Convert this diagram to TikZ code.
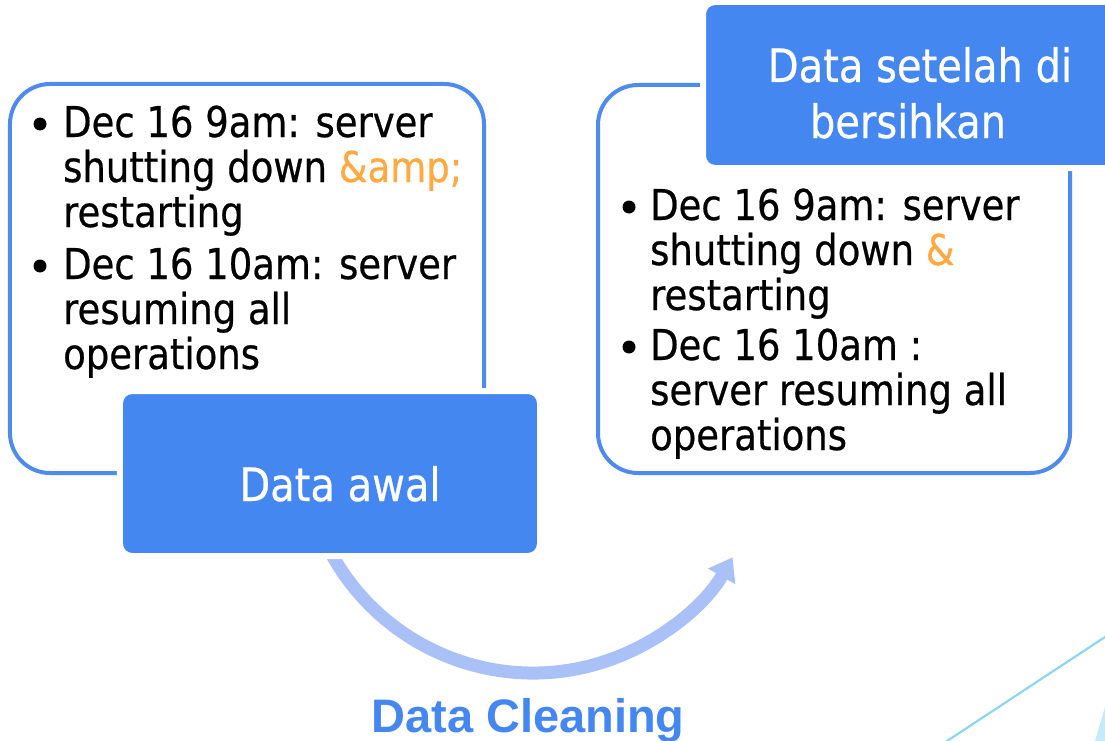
\documentclass[tikz,border=0pt]{standalone}
\usepackage{fontspec}
\setmainfont[FakeStretch=0.87,FakeBold=0.5]{DejaVu Sans}
\newfontfamily\captionfont{Liberation Sans}
\usetikzlibrary{arrows.meta,calc}

\definecolor{boxblue}{RGB}{69,135,240}
\definecolor{edgeblue}{RGB}{78,139,237}
\definecolor{arcblue}{RGB}{170,193,247}
\definecolor{ampcolor}{RGB}{255,169,64}
\definecolor{decoline}{RGB}{140,214,240}
\definecolor{decofill}{RGB}{198,235,248}

\tikzset{
  frame/.style={draw=edgeblue, line width=4bp, rounded corners=40bp,
    inner sep=0pt, fill=white},
  titlebox/.style={fill=boxblue, draw=white, line width=6bp,
    rounded corners=12bp, inner sep=0pt},
  bodyline/.style={anchor=base west, inner sep=0pt, text=black,
    font=\fontsize{42.5bp}{46bp}\selectfont},
  bulletmark/.style={circle, fill=black, inner sep=0pt, minimum size=13bp},
  titletext/.style={anchor=base, inner sep=0pt, text=white,
    font=\fontsize{46bp}{55bp}\selectfont},
  cycle arrow/.style={draw=arcblue, line width=13bp,
    -{Triangle[length=22bp,width=30bp]}},
}

\begin{document}
\begin{tikzpicture}[x=1bp,y=-1bp]
\useasboundingbox (0,0) rectangle (1105,741);

% outlined frames
\node[frame, minimum width=474bp, minimum height=389bp] (rawframe) at (247,278.5) {};
\node[frame, minimum width=472bp, minimum height=388bp] (cleanframe) at (834,279) {};

% cleaning arc running under the first title box
\coordinate (arccentre) at (533,443);
\coordinate (arcfrom) at ($(arccentre)+(160:230)$);
\draw[cycle arrow] (arcfrom)
  arc[start angle=160, end angle=29.8, radius=230];

% filled title boxes
\node[titlebox, minimum width=420bp, minimum height=165bp] (rawtitle) at (330,473.5) {};
\node[titlebox, minimum width=437bp, minimum height=166bp] (cleantitle) at (921.5,85) {};

\node[titletext] (rawlabel) at (340,501) {Data awal};
\node[titletext] (cleanlabelA) at (920,82) {Data setelah di};
\node[titletext] (cleanlabelB) at (908,138) {bersihkan};

% raw data items
\node[bulletmark] (rb1) at (40,124) {};
\node[bodyline] (r1) at (63,137) {Dec 16 9am: server};
\node[bodyline] (r2) at (63,182) {shutting down {\color{ampcolor}\&amp;}};
\node[bodyline] (r3) at (63,227) {restarting};
\node[bulletmark] (rb2) at (40,266) {};
\node[bodyline] (r4) at (63,279) {Dec 16 10am: server};
\node[bodyline] (r5) at (63,324) {resuming all};
\node[bodyline] (r6) at (63,369) {operations};

% cleaned data items
\node[bulletmark] (cb1) at (629,207) {};
\node[bodyline] (c1) at (650,220) {Dec 16 9am: server};
\node[bodyline] (c2) at (650,265) {shutting down {\color{ampcolor}\&}};
\node[bodyline] (c3) at (650,310) {restarting};
\node[bulletmark] (cb2) at (629,347) {};
\node[bodyline] (c4) at (650,360) {Dec 16 10am :};
\node[bodyline] (c5) at (650,405) {server resuming all};
\node[bodyline] (c6) at (650,450) {operations};

% process caption
\node[anchor=base, inner sep=0pt, text=boxblue,
  font=\captionfont\bfseries\fontsize{47bp}{52bp}\selectfont]
  (caption) at (528,732) {Data Cleaning};

% corner decoration
\coordinate (decoA) at (931.2,751.4);
\coordinate (decoB) at (1120.8,626.6);
\draw[decoline, line width=2.2bp] (decoA) -- (decoB);
\coordinate (triA) at (1092.6,749);
\coordinate (triB) at (1110,690);
\coordinate (triC) at (1110,749);
\fill[decofill] (triA) -- (triB) -- (triC) -- cycle;
\end{tikzpicture}
\end{document}
